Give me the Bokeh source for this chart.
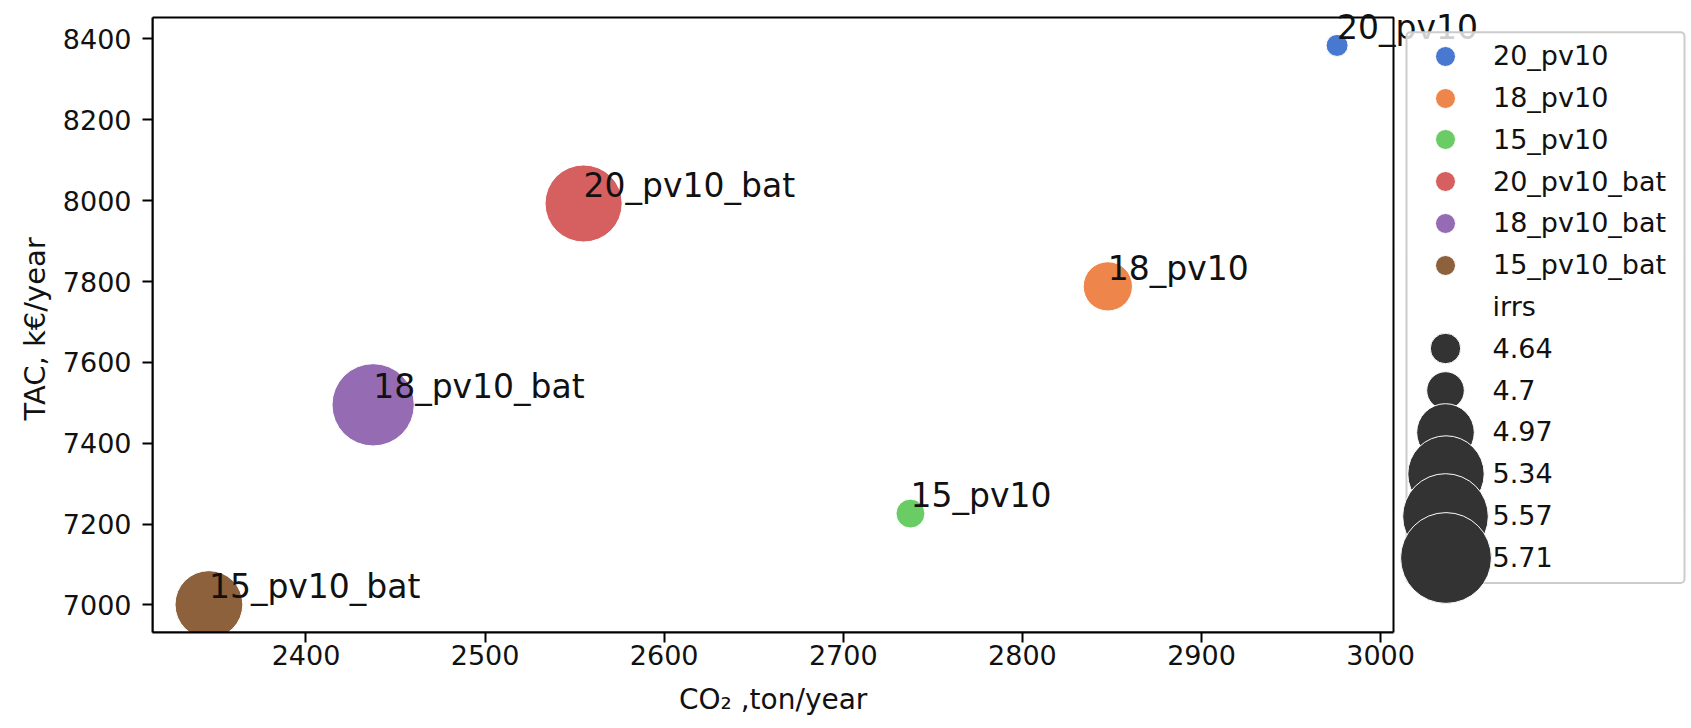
import numpy as np
from bokeh.plotting import figure
from bokeh.models import (ColumnDataSource, LabelSet, Legend, LegendItem,
                          FixedTicker, Range1d, BoxAnnotation, Title)
from bokeh.core.properties import value
from bokeh.embed import file_html
from bokeh.resources import INLINE

# ---------------- data ----------------
names = ["20_pv10", "18_pv10", "15_pv10", "20_pv10_bat", "18_pv10_bat", "15_pv10_bat"]
co2 = [2975.7, 2847.7, 2737.5, 2555.0, 2437.5, 2345.8]
tac = [8384.0, 7788.0, 7226.0, 7993.0, 7495.0, 7001.0]
irrs = [4.64, 4.97, 4.70, 5.57, 5.71, 5.34]
colors = ["#4878d0", "#ee854a", "#6acc64", "#d65f5f", "#956cb4", "#8c613c"]
size_levels = [4.64, 4.7, 4.97, 5.34, 5.57, 5.71]
size_labels = ["4.64", "4.7", "4.97", "5.34", "5.57", "5.71"]
size_title = "irrs"
x_ticks = [2400, 2500, 2600, 2700, 2800, 2900, 3000]
y_ticks = [7000, 7200, 7400, 7600, 7800, 8000, 8200, 8400]
x_label = "CO\u2082 ,ton/year"
y_label = "TAC, k\u20ac/year"

# ---------------- styles / layout ----------------
FONT = "DejaVu Sans"
TXT = "#111111"
D_MIN, D_MAX = 22.0, 82.3          # visible bubble diameters (px)
LEG_EDGE = 8.5                      # legend markers drawn slightly larger
W, H = 1691, 728
AX_L, AX_T, AX_R, AX_B = 152.0, 17.0, 1393.0, 633.0   # axes box in pixels
FRAME_T = 0.0                                          # frame extended up/right
X_LABEL_W, Y_LABEL_W = 188.0, 186.0                    # approx. text lengths
Y_LABEL_CY = 328.0

def diam(v):
    lo, hi = min(size_levels), max(size_levels)
    a = D_MIN ** 2 + (D_MAX ** 2 - D_MIN ** 2) * (v - lo) / (hi - lo)
    return float(np.sqrt(a))

def padded(vals, frac=0.05):
    lo, hi = min(vals), max(vals)
    d = (hi - lo) * frac
    return lo - d, hi + d

x_lo, x_hi = padded(co2)
y_lo, y_hi = padded(tac)
x_end = x_hi + (W - AX_R) / (AX_R - AX_L) * (x_hi - x_lo)
y_end = y_hi + (AX_T - FRAME_T) / (AX_B - AX_T) * (y_hi - y_lo)

def px_x(px):
    return x_lo + (px - AX_L) / (AX_R - AX_L) * (x_hi - x_lo)

def px_y(py):
    return y_lo + (AX_B - py) / (AX_B - AX_T) * (y_hi - y_lo)

p = figure(width=W, height=H, output_backend="svg", toolbar_location=None,
           x_range=Range1d(x_lo, x_end), y_range=Range1d(y_lo, y_end),
           min_border_left=int(AX_L), min_border_right=0,
           min_border_top=int(FRAME_T), min_border_bottom=int(H - AX_B))
p.grid.visible = False
p.outline_line_alpha = 0
p.background_fill_color = "white"
p.border_fill_color = "white"

for ax in (p.xaxis[0], p.yaxis[0]):
    ax.axis_line_width = 2
    ax.axis_line_color = "black"
    ax.major_tick_line_width = 2
    ax.major_tick_out = 10
    ax.major_tick_in = 0
    ax.minor_tick_out = 0
    ax.minor_tick_in = 0
    ax.major_label_text_font = FONT
    ax.major_label_text_font_size = "27px"
    ax.major_label_text_color = TXT

p.xaxis[0].ticker = FixedTicker(ticks=x_ticks)
p.yaxis[0].ticker = FixedTicker(ticks=y_ticks)
p.xaxis[0].bounds = (x_lo, x_hi)
p.yaxis[0].bounds = (y_lo, y_hi)
p.xaxis[0].major_label_standoff = 2
p.yaxis[0].major_label_standoff = 11

# axis titles, positioned on the axes box (the frame itself is wider)
p.add_layout(Title(text=x_label, align="left", text_font=FONT,
                   text_font_size="28px", text_font_style="normal",
                   text_color=TXT, standoff=26,
                   offset=(AX_L + AX_R) / 2 - X_LABEL_W / 2 - AX_L), "below")
p.add_layout(Title(text=y_label, align="left", text_font=FONT,
                   text_font_size="29px", text_font_style="normal",
                   text_color=TXT, standoff=15,
                   offset=AX_B - (Y_LABEL_CY + Y_LABEL_W / 2)), "left")

# top / right spines of the axes box
p.add_layout(BoxAnnotation(left=x_lo, right=x_hi, bottom=y_lo, top=y_hi,
                           fill_alpha=0, line_color="black", line_alpha=1.0,
                           line_width=2))

src = ColumnDataSource(dict(x=co2, y=tac, name=names, color=colors,
                            size=[diam(v) for v in irrs]))
r_main = p.scatter("x", "y", source=src, size="size", fill_color="color",
                   line_color="white", line_width=1, fill_alpha=1.0)

labels = LabelSet(x="x", y="y", text="name", source=src,
                  text_font=value(FONT), text_font_size="33px",
                  text_color=TXT, text_baseline="alphabetic", y_offset=6.5)
p.add_layout(labels)

# ---------------- legend ----------------
LEG_CX, LEG_LX = 1445.0, 1493.0
ROW0, ROWH = 56.7, 41.8
p.add_layout(BoxAnnotation(left=px_x(1406), right=px_x(1684), top=px_y(31.7),
                           bottom=px_y(583.3), fill_color="white", fill_alpha=0.8,
                           line_color="#cccccc", line_alpha=1.0, line_width=2,
                           border_radius=4, level="overlay"))

def single_legend(item, cy, d, standoff=None):
    g = 2.5 * d
    if standoff is None:
        standoff = max(0, int(round(LEG_LX - (LEG_CX + g / 2))))
    leg = Legend(items=[item], location=(LEG_CX - g / 2 - AX_L, AX_B - cy - g / 2),
                 glyph_width=int(round(g)), glyph_height=int(round(g)),
                 label_standoff=standoff,
                 padding=0, margin=0, spacing=0, level="overlay",
                 background_fill_alpha=0, border_line_alpha=0,
                 label_text_font=FONT, label_text_font_size="27px",
                 label_text_color=TXT)
    p.add_layout(leg)

for i, nm in enumerate(names):
    single_legend(LegendItem(label=nm, renderers=[r_main], index=i),
                  ROW0 + ROWH * i, 20)

# invisible helper renderers that only supply the legend glyph styles
r_blank = p.scatter("x", "y", source=src, size=10, fill_alpha=0, line_alpha=0,
                    visible=False)
r_size = p.scatter("x", "y", source=src, size=10, fill_color="#333333",
                   line_color="white", line_width=1, visible=False)

single_legend(LegendItem(label=size_title, renderers=[r_blank], index=0),
              ROW0 + ROWH * len(names), 14)

for j, (lv, lb) in enumerate(zip(size_levels, size_labels)):
    cy = ROW0 + ROWH * (len(names) + 1 + j)
    single_legend(LegendItem(label=" ", renderers=[r_size], index=0),
                  cy, diam(lv) + LEG_EDGE, standoff=0)
for j, lb in enumerate(size_labels):
    cy = ROW0 + ROWH * (len(names) + 1 + j)
    single_legend(LegendItem(label=lb, renderers=[r_blank], index=0), cy, 14)

open("out.html", "w").write(file_html(p, INLINE))
